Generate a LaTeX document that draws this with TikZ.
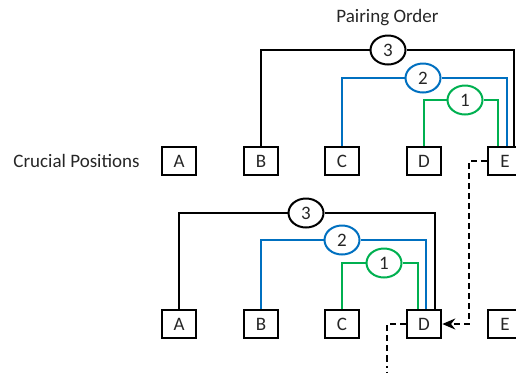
\documentclass[tikz,border=0pt]{standalone}
\usepackage{fontspec}
\setmainfont{Carlito}
\usetikzlibrary{shapes.geometric,arrows.meta}

\definecolor{pairblue}{RGB}{0,112,192}
\definecolor{pairgreen}{RGB}{0,176,80}
\definecolor{txtgray}{RGB}{38,38,38}

\tikzset{
  posbox/.style={draw=black, line width=2.6pt, minimum width=34pt, minimum height=28pt,
    inner sep=0pt, text=txtgray, fill=white},
  ordmark/.style={ellipse, draw, line width=2pt, minimum width=35pt, minimum height=29pt,
    inner sep=0pt, fill=white, text=txtgray},
  pairline/.style={line width=2pt},
  shiftline/.style={line width=1.8pt, dash pattern=on 6pt off 4pt}
}

\begin{document}
\begin{tikzpicture}[x=1pt, y=-1pt, font=\fontsize{19}{22}\selectfont]
        \useasboundingbox (0,0) rectangle (516,376);

        % the two rows of positions
        \foreach \n/\x in {A/179,B/261,C/342,D/424,E/505} {
            \node[posbox] (t\n) at (\x,161) {\n};
            \node[posbox] (b\n) at (\x,324) {\n};
        }

        \node[text=txtgray] (crucial) at (76.5,161) {Crucial Positions};
        \node[text=txtgray] (order) at (387.5,18) {Pairing Order};

        % pairing order, top row
        \node[ordmark] (t3) at (388,50) {3};
        \node[ordmark, draw=pairblue] (t2) at (423,78) {2};
        \node[ordmark, draw=pairgreen] (t1) at (465,100) {1};

        \draw[pairline] (tB.north) |- (t3.west);
        \draw[pairline] (t3.east) -| ([xshift=9pt]tE.north);
        \draw[pairline, pairblue] (tC.north) |- (t2.west);
        \draw[pairline, pairblue] (t2.east) -| ([xshift=2pt]tE.north);
        \draw[pairline, pairgreen] (tD.north) |- (t1.west);
        \draw[pairline, pairgreen] (t1.east) -| ([xshift=-7pt]tE.north);

        % pairing order, bottom row
        \node[ordmark] (b3) at (306,213) {3};
        \node[ordmark, draw=pairblue] (b2) at (342,240) {2};
        \node[ordmark, draw=pairgreen] (b1) at (384,263) {1};

        \draw[pairline] (bA.north) |- (b3.west);
        \draw[pairline] (b3.east) -| ([xshift=11pt]bD.north);
        \draw[pairline, pairblue] (bB.north) |- (b2.west);
        \draw[pairline, pairblue] (b2.east) -| ([xshift=2pt]bD.north);
        \draw[pairline, pairgreen] (bC.north) |- (b1.west);
        \draw[pairline, pairgreen] (b1.east) -| ([xshift=-6pt]bD.north);

        % shift from E to D
        \draw[shiftline, -{Stealth[length=13pt, width=11pt]}]
            (tE.west) -- ([xshift=-18pt]tE.west) |- (bD.east);

        \coordinate (tail) at (387,360);
        \coordinate (tailend) at (387,376);
        \draw[shiftline] (bD.west) -| (tail);
        \draw[line width=1.8pt, dash pattern=on 1.8pt off 4pt] (tail) -- (tailend);
\end{tikzpicture}
\end{document}
